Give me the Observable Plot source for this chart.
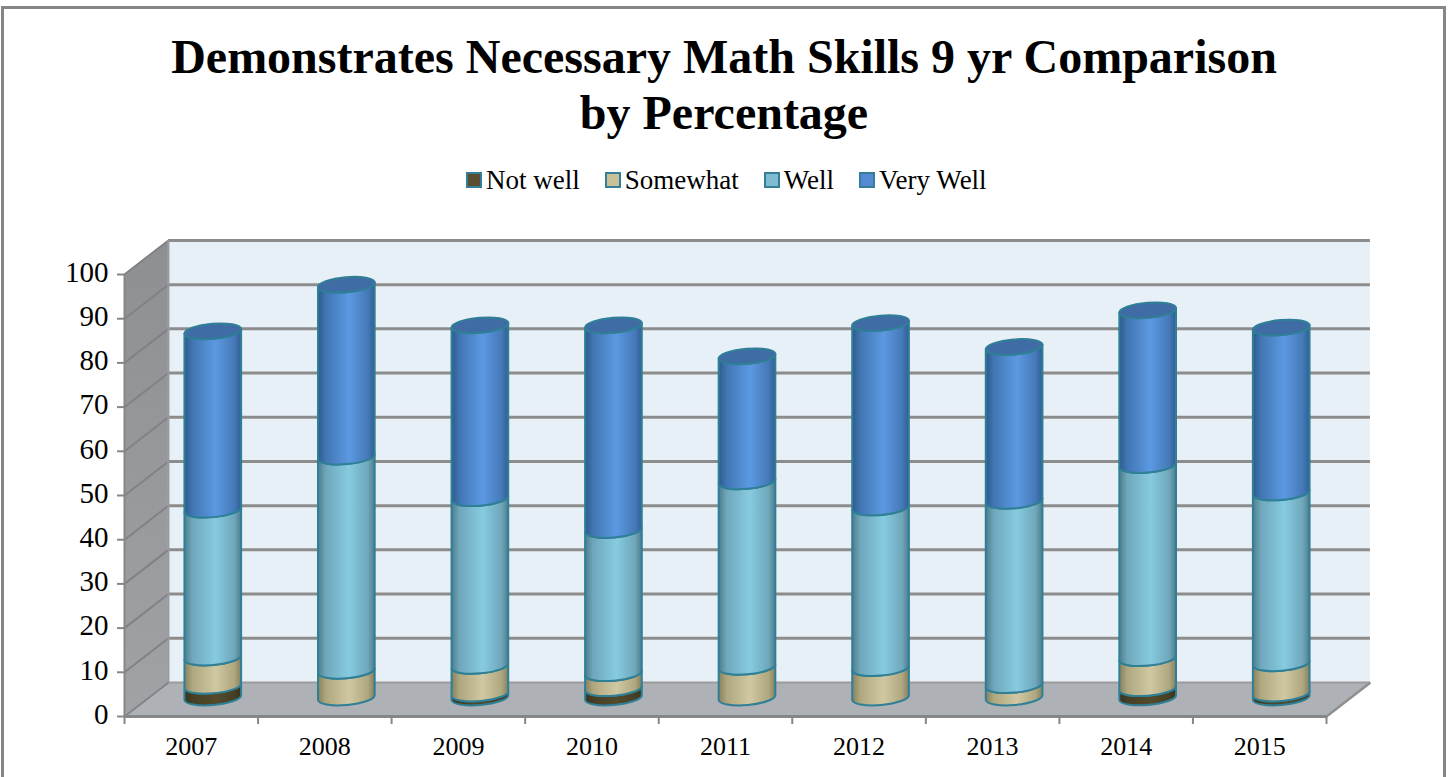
<!DOCTYPE html>
<html>
<head>
<meta charset="utf-8">
<script src="https://cdn.jsdelivr.net/npm/d3@7"></script>
<script src="https://cdn.jsdelivr.net/npm/@observablehq/plot@0.6"></script>
<style>
  html, body { margin: 0; padding: 0; background: #fff; }
  #page { position: relative; width: 1450px; height: 777px; overflow: hidden; font-family: "Liberation Serif", serif; color: #000; }
  #frame { position: absolute; left: 1px; top: 6px; width: 1439px; height: 800px; border: 3px solid #868686; box-sizing: content-box; }
  #title { position: absolute; left: 0; top: 29px; width: 1448px; text-align: center; font-weight: bold; font-size: 48px; line-height: 56px; }
  #legend { position: absolute; left: 466px; top: 164px; display: flex; font-size: 27px; line-height: 32px; white-space: nowrap; }
  #legend span.item { display: inline-flex; align-items: center; margin-right: 25px; }
  #legend i { display: inline-block; box-sizing: border-box; width: 16px; height: 16px; margin-right: 4px; border: 2.5px solid #337f98; }
  #chart { position: absolute; left: 0; top: 220px; }
</style>
</head>
<body>
<div id="page">
  <div id="frame"></div>
  <div id="title"></div>
  <div id="legend"></div>
  <div id="chart"></div>
</div>
<script>
// Share of respondents per year, one array per rating level.
const years     = [2007, 2008, 2009, 2010, 2011, 2012, 2013, 2014, 2015];
const notWell   = [2.65, 0, 0.9, 2.1, 0, 0, 0, 2.1, 0.9];
const somewhat  = [6.4, 6.05, 6.25, 3.4, 6.95, 6.65, 2.8, 6.8, 6.85];
const well      = [33.45, 48.45, 37.95, 32.4, 41.95, 36.35, 41.7, 43.7, 38.65];
const veryWell  = [40.35, 38.9, 39.1, 46.3, 28.3, 41.7, 34.8, 35.0, 37.3];
const yTicks    = [0, 10, 20, 30, 40, 50, 60, 70, 80, 90, 100];

const titleLines = ["Demonstrates Necessary Math Skills 9 yr Comparison", "by Percentage"];

const levels = [
  {name: "Not well", values: notWell,  swatch: "#5a4e30", stops: ["#38331f", "#453f25", "#544b2b", "#453f25", "#38331f"], id: "shadeNotWell"},
  {name: "Somewhat", values: somewhat, swatch: "#c9c097", stops: ["#85805f", "#aea77f", "#d0c8a2", "#aea77f", "#85805f"], id: "shadeSomewhat"},
  {name: "Well",     values: well,     swatch: "#7fbcd2", stops: ["#4e7d8e", "#6fa7bb", "#86cbe0", "#6fa7bb", "#4e7d8e"], id: "shadeWell"},
  {name: "Very Well", values: veryWell, swatch: "#5589d3", stops: ["#2d5a8b", "#4176b3", "#5c99e2", "#4579b8", "#2f5e92"], id: "shadeVeryWell"}
];

const rows = years.flatMap((year, i) => levels.map((level) => ({year, level, value: level.values[i]})));

// Oblique projection of the chart box, in data units.
const xMin = 2006.5, xMax = 2015.5;
const depthX = 0.329, depthY = 7.7;
const barHalf = 0.213;
// Cylinders stand halfway into the box.
const liftPx = 18.5, shiftPx = 22, ryPx = 7.5, tiltDeg = -5;

const axisGrey = "#868686", gridGrey = "#8c8c8c", rimTeal = "#2f7f96";

document.getElementById("title").innerHTML = titleLines.join("<br>");
document.getElementById("legend").innerHTML = levels
  .map((l) => `<span class="item"><i style="background:${l.swatch}"></i>${l.name}</span>`).join("");

// Gradient definitions shared by the walls and the cylinders.
function shadeDefs() {
  const g = d3.create("svg:g");
  const defs = g.append("defs");
  for (const l of levels) {
    const grad = defs.append("linearGradient").attr("id", l.id).attr("x1", 0).attr("x2", 1).attr("y1", 0).attr("y2", 0);
    [0, 0.14, 0.55, 0.88, 1].forEach((o, k) => grad.append("stop").attr("offset", o).attr("stop-color", l.stops[k]));
  }
  const wall = defs.append("linearGradient").attr("id", "shadeWall").attr("x1", 0).attr("x2", 0).attr("y1", 0).attr("y2", 1);
  wall.append("stop").attr("offset", 0).attr("stop-color", "#8e8f93");
  wall.append("stop").attr("offset", 1).attr("stop-color", "#a0a2a6");
  return g.node();
}

// Stacked cylinders: the stack transform supplies the extents, and the
// body, rim and cap outlines are built from the scaled channels.
function cylinders() {
  return Plot.rect(rows, Plot.stackY({
    x1: (d) => d.year - barHalf,
    x2: (d) => d.year + barHalf,
    y: "value",
    render(index, scales, values) {
      const g = d3.create("svg:g");
      const {x1: X1, x2: X2, y1: Y1, y2: Y2} = values;
      const phi = tiltDeg * Math.PI / 180;
      for (const i of index) {
        if (rows[i].value <= 0) continue;
        const rx = (X2[i] - X1[i]) / 2;
        const cx = (X1[i] + X2[i]) / 2 + shiftPx;
        const yb = Math.max(Y1[i], Y2[i]) - liftPx;
        const yt = Math.min(Y1[i], Y2[i]) - liftPx;
        const ex = rx * Math.cos(phi), ey = rx * Math.sin(phi);
        const arc = (sweep, px, py) => `A${rx},${ryPx} ${tiltDeg} 0 ${sweep} ${px},${py}`;
        g.append("path")
          .attr("d", `M${cx - ex},${yb - ey}${arc(0, cx + ex, yb + ey)}L${cx + ex},${yt + ey}${arc(1, cx - ex, yt - ey)}Z`)
          .attr("fill", `url(#${rows[i].level.id})`)
          .attr("stroke", rimTeal).attr("stroke-width", 2).attr("stroke-linejoin", "round");
        if (rows[i].level.name === "Very Well") {
          g.append("ellipse")
            .attr("transform", `translate(${cx},${yt}) rotate(${tiltDeg})`)
            .attr("rx", rx).attr("ry", ryPx)
            .attr("fill", "#3f6ca4").attr("stroke", rimTeal).attr("stroke-width", 2);
        }
      }
      return g.node();
    }
  }));
}

const backTicks = yTicks.filter((v) => v > 0);

const plot = Plot.plot({
  width: 1450,
  height: 557,
  marginLeft: 124,
  marginRight: 124,
  marginTop: 54,
  marginBottom: 61,
  style: {fontFamily: "Liberation Serif, serif", fontSize: "26px", color: "#000", background: "transparent", overflow: "visible"},
  x: {type: "linear", domain: [xMin, xMax]},
  y: {type: "linear", domain: [0, 100]},
  marks: [
    shadeDefs,
    // Back wall
    Plot.rect([0], {x1: xMin + depthX, x2: xMax + depthX, y1: depthY, y2: 100 + depthY, fill: "#e8f0f7"}),
    // Left wall
    Plot.areaY([0, 1], {x: (t) => xMin + t * depthX, y1: (t) => t * depthY, y2: (t) => 100 + t * depthY, fill: "url(#shadeWall)"}),
    // Floor
    Plot.areaX([0, 1], {x1: (t) => xMin + t * depthX, x2: (t) => xMax + t * depthX, y: (t) => t * depthY, fill: "#aeb1b5"}),
    // Gridlines across the back wall and down the left wall
    Plot.ruleY(backTicks, {y: (v) => v + depthY, x1: xMin + depthX, x2: xMax + depthX, stroke: gridGrey, strokeWidth: 3}),
    Plot.ruleY([0], {y: depthY, x1: xMin + depthX, x2: xMax + depthX, stroke: "#9b9b9b", strokeWidth: 2}),
    Plot.link(yTicks, {x1: xMin, y1: (v) => v, x2: xMin + depthX, y2: (v) => v + depthY, stroke: "#818286", strokeWidth: 2}),
    Plot.ruleX([0], {x: xMin + depthX, y1: depthY, y2: 100 + depthY, stroke: "#9b9b9b", strokeWidth: 2}),
    Plot.link([0], {x1: xMax, y1: 0, x2: xMax + depthX, y2: depthY, stroke: "#8f8f8f", strokeWidth: 2.5}),
    // Front axis lines
    Plot.ruleX([xMin], {y1: 0, y2: 100, stroke: axisGrey, strokeWidth: 2}),
    Plot.ruleY([0], {x1: xMin, x2: xMax, stroke: axisGrey, strokeWidth: 3}),
    cylinders(),
    // Axes: tick marks between the years, year labels centred in each slot
    Plot.axisX({ticks: d3.range(xMin, xMax + 0.5, 1), tickFormat: () => "", tickSize: 8, stroke: axisGrey, strokeWidth: 2, label: null}),
    Plot.axisX({ticks: years, tickFormat: (d) => String(d), tickSize: 0, tickPadding: 20, stroke: "none", fill: "#000", fontSize: 26, label: null}),
    // Value ticks and their labels, the labels sitting slightly above the tick
    Plot.axisY({ticks: yTicks, tickFormat: () => "", tickSize: 7, stroke: axisGrey, strokeWidth: 2, label: null}),
    Plot.text(yTicks, {x: xMin, y: (v) => v, text: (v) => String(v), dx: -16, dy: -2, textAnchor: "end", fontSize: 29, fill: "#000"})
  ]
});
document.getElementById("chart").appendChild(plot);
</script>
</body>
</html>
